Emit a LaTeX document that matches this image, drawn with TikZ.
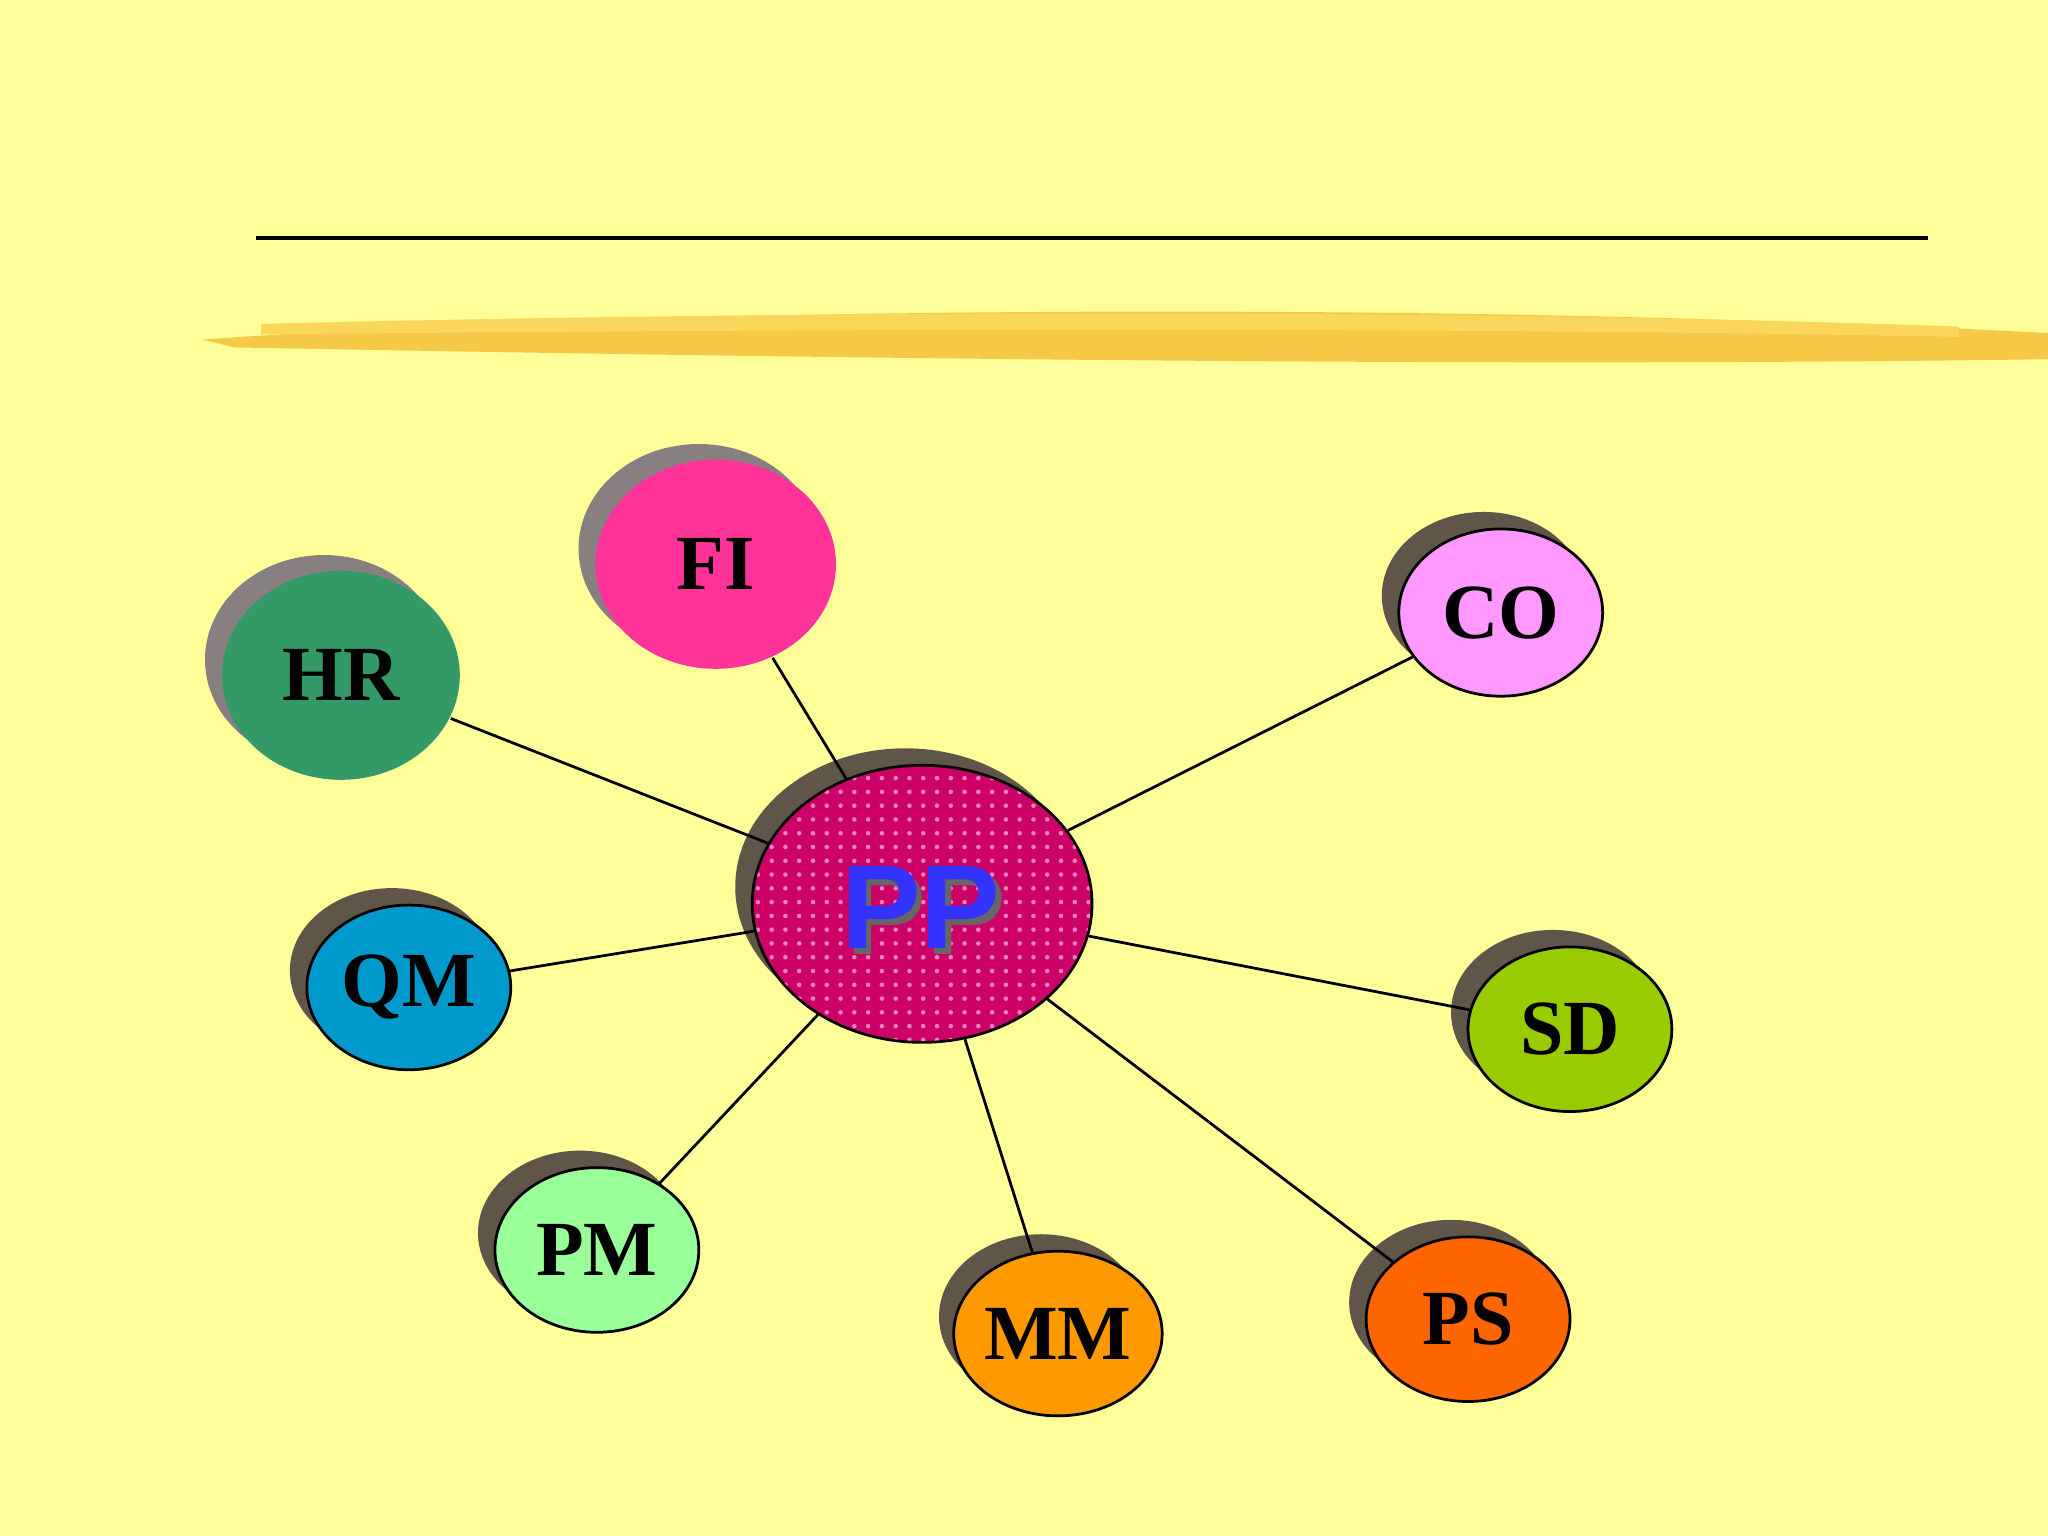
\documentclass[tikz,border=0pt]{standalone}
\usepackage{fontspec}
\setmainfont{Liberation Serif}
\setsansfont{Liberation Sans}
\usetikzlibrary{shapes.geometric,patterns}
\definecolor{bg}{HTML}{FFFF99}
\definecolor{shd}{HTML}{5F5548}
\definecolor{shl}{HTML}{888080}
\tikzset{
 bub/.style={ellipse,inner sep=0pt,draw=black,line width=0.6pt,font=\bfseries\fontsize{17}{17}\selectfont},
 sh/.style={ellipse,inner sep=0pt,fill=shd},
 small/.style={minimum width=1.56cm,minimum height=1.26cm},
 link/.style={draw=black,line width=0.6pt}
}
\begin{document}
\begin{tikzpicture}[x=0.01cm,y=-0.01cm]
\fill[bg] (0,0) rectangle (1568,1176);
\useasboundingbox (0,0) rectangle (1568,1176);
\draw[line width=0.8pt] (196,182) -- (1476,182);
\fill[color={rgb,255:red,245;green,200;blue,70}] (155,260) .. controls (500,235) and (1100,230) .. (1568,255) -- (1568,275) .. controls (1100,282) and (500,272) .. (180,266) -- cycle;
\fill[color={rgb,255:red,250;green,215;blue,90}] (200,248) .. controls (600,238) and (1100,236) .. (1500,250) -- (1500,258) .. controls (1100,250) and (600,252) .. (200,256) -- cycle;
% shadows
\node[sh,fill=shl,minimum width=1.84cm,minimum height=1.60cm] at (535,420) {};
\node[sh,fill=shl,minimum width=1.82cm,minimum height=1.60cm] at (248,505) {};
\node[sh,minimum width=1.56cm,minimum height=1.28cm] at (1136,456) {};
\node[sh,minimum width=2.60cm,minimum height=2.12cm] at (693,679) {};
\node[sh,small] at (300,743) {};
\node[sh,small] at (1189,775) {};
\node[sh,small] at (444,944) {};
\node[sh,small] at (797,1008) {};
\node[sh,small] at (1111,997) {};
% nodes
\node[bub,draw=none,fill={rgb,255:red,255;green,51;blue,153},minimum width=1.84cm,minimum height=1.60cm] (fi) at (548,432) {FI};
\node[bub,draw=none,fill={rgb,255:red,51;green,153;blue,102},minimum width=1.82cm,minimum height=1.60cm] (hr) at (261,517) {HR};
\node[bub,fill={rgb,255:red,255;green,153;blue,255},minimum width=1.56cm,minimum height=1.28cm] (co) at (1149,469) {CO};
\node[bub,small,fill={rgb,255:red,0;green,153;blue,204}] (qm) at (313,756) {QM};
\node[bub,small,fill={rgb,255:red,153;green,204;blue,0}] (sd) at (1202,788) {SD};
\node[bub,small,fill={rgb,255:red,153;green,255;blue,153}] (pm) at (457,957) {PM};
\node[bub,small,fill={rgb,255:red,255;green,153;blue,0}] (mm) at (810,1021) {MM};
\node[bub,small,fill={rgb,255:red,255;green,102;blue,0}] (ps) at (1124,1010) {PS};
\node[ellipse,inner sep=0pt,draw=black,line width=0.6pt,fill={rgb,255:red,204;green,0;blue,102},minimum width=2.60cm,minimum height=2.12cm] (pp) at (706,692) {};
\fill[pattern=dots,pattern color={rgb,255:red,240;green,130;blue,190}] (706,692) ellipse (129 and 105);
\node[font=\sffamily\bfseries\fontsize{26}{26}\selectfont,text=black!60] at (709,699) {PP};
\node[font=\sffamily\bfseries\fontsize{26}{26}\selectfont,text={rgb,255:red,51;green,51;blue,255}] (ppt) at (705,695) {PP};
% links
\draw[link] (pp) -- (hr);
\draw[link] (pp) -- (fi);
\draw[link] (pp) -- (co);
\draw[link] (pp) -- (qm);
\draw[link] (pp) -- (sd);
\draw[link] (pp) -- (pm);
\draw[link] (pp) -- (mm);
\draw[link] (pp) -- (ps);
\end{tikzpicture}
\end{document}
